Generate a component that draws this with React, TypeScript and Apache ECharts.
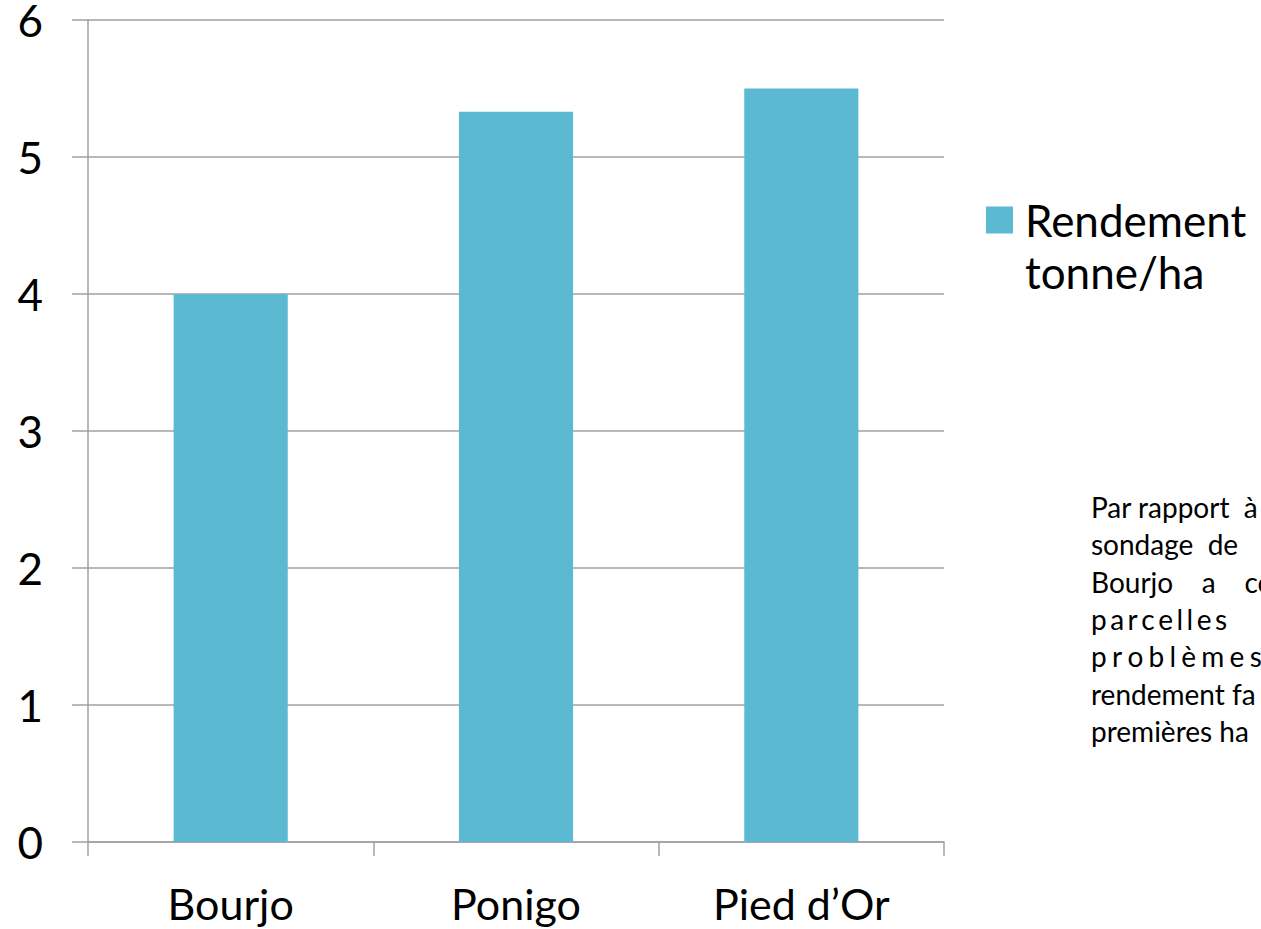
import React, { useEffect, useRef } from "react";
import * as echarts from "echarts";

const categories = ["Bourjo", "Ponigo", "Pied d\u2019Or"];
const rendement = [4.0, 5.33, 5.5];
const seriesName = "Rendement tonne/ha";
const noteLines = [
  "Par rapport  à",
  "sondage  de",
  "Bourjo    a    co",
  "p\u2009a\u2009r\u2009c\u2009e\u2009l\u2009l\u2009e\u2009s",
  "p\u2009\u200Ar\u2009\u200Ao\u2009\u200Ab\u2009\u200Al\u2009\u200Aè\u2009\u200Am\u2009\u200Ae\u2009\u200As",
  "rendement fa",
  "premières ha",
];

const FONT = "Lato, 'Open Sans', sans-serif";
const BAR = "#5BB9D2";
const GRID = "#A0A0A0";

export default function App() {
  const ref = useRef<HTMLDivElement>(null);

  useEffect(() => {
    document.body.style.margin = "0";
    if (!ref.current) return;
    const chart = echarts.init(ref.current, undefined, { renderer: "svg" });

    chart.setOption({
      animation: false,
      backgroundColor: "#ffffff",
      textStyle: { fontFamily: FONT },
      grid: {
        left: 88,
        right: 317,
        top: 20,
        bottom: 87,
        containLabel: false,
        outerBoundsMode: "none",
      },
      legend: {
        left: 981,
        top: 137,
        orient: "vertical",
        itemWidth: 27,
        itemHeight: 27,
        icon: "rect",
        data: [seriesName],
        // blank first line keeps the swatch level with "Rendement"
        formatter: () => "\nRendement\ntonne/ha",
        textStyle: {
          fontFamily: FONT,
          fontSize: 44,
          lineHeight: 52,
          color: "#000",
          padding: [0, 0, 0, 7],
        },
      },
      xAxis: {
        type: "category",
        data: categories,
        axisLine: { show: true, lineStyle: { color: GRID, width: 1.5 } },
        axisTick: { show: true, length: 14, alignWithLabel: false, lineStyle: { color: GRID, width: 1.5 } },
        axisLabel: { fontSize: 43, color: "#000", margin: 40, fontFamily: FONT },
      },
      yAxis: {
        type: "value",
        min: 0,
        max: 6,
        interval: 1,
        axisLine: { show: true, lineStyle: { color: GRID, width: 1.5 } },
        axisTick: { show: true, length: 16, lineStyle: { color: GRID, width: 1.5 } },
        splitLine: { show: true, lineStyle: { color: GRID, width: 1.5 } },
        axisLabel: {
          fontSize: 44,
          lineHeight: 32,
          color: "#000",
          margin: 45,
          fontFamily: FONT,
          padding: [8, 0, 0, 0],
        },
      },
      series: [
        {
          name: seriesName,
          type: "bar",
          data: rendement,
          barWidth: "40%",
          itemStyle: { color: BAR },
        },
      ],
      graphic: noteLines.map((line, i) => ({
        type: "text",
        left: 1091,
        top: 493 + i * 37.3,
        style: {
          text: line,
          fontFamily: FONT,
          fontSize: 28,
          fill: "#000",
        },
      })),
    });

    return () => chart.dispose();
  }, []);

  return <div ref={ref} style={{ width: 1261, height: 929 }} />;
}
